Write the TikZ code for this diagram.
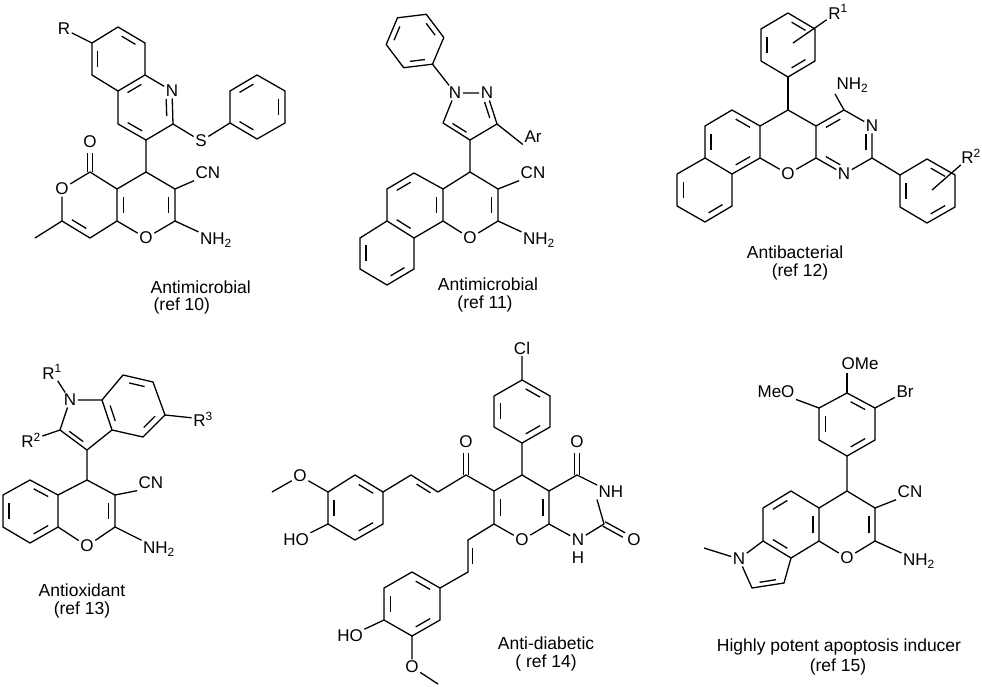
\documentclass[tikz,border=0pt]{standalone}
\usepackage{fontspec}
\setmainfont{Liberation Sans}
\usetikzlibrary{calc}
\newcommand\At[3]{\coordinate (#1) at (#2,#3);}
\newcommand\dbin[3]{\draw ($ ($(#1)!0.17!(#2)$)!0.22!(#3) $) -- ($ ($(#2)!0.17!(#1)$)!0.22!(#3) $);}
\newcommand\dbout[2]{\draw ($(#1)!2.5pt!90:(#2)$) -- ($(#2)!2.5pt!-90:(#1)$); \draw ($(#1)!2.5pt!-90:(#2)$) -- ($(#2)!2.5pt!90:(#1)$);}
\begin{document}
\begin{tikzpicture}[x=1pt,y=-1pt,line width=1.3pt,line join=round,
  atom/.style={font=\fontsize{17}{17}\selectfont,inner sep=1pt},
  capt/.style={font=\fontsize{17.5}{17.5}\selectfont,inner sep=0pt}]
\path[use as bounding box,fill=white] (0,0) rectangle (982,687);
% ===== Structure 1 =====
\At{a1}{92}{43}\At{a2}{118}{27}\At{a3}{145}{43}\At{a4}{145}{75}\At{a5}{118}{91}\At{a6}{92}{75}
\At{ac}{118}{59}
\node[atom] (R) at (64,29) {R};
\node[atom] (qN) at (172,91) {N};
\At{q2}{173}{124}\At{q3}{146}{140}\At{q4}{118}{124}\At{qc}{145}{108}
\node[atom] (S) at (201,141) {S};
\At{p1}{230}{123}\At{p2}{230}{91}\At{p3}{257}{75}\At{p4}{285}{91}\At{p5}{285}{123}\At{p6}{257}{139}\At{pc}{257}{107}
\At{y4}{146}{172}\At{y3}{175}{189}\At{y2}{175}{221}\At{y8}{117}{221}\At{y4a}{117}{189}\At{yc}{146}{205}
\node[atom] (O1) at (146,238) {O};
\node[atom] (CN1) at (208,173) {CN};
\node[atom] (NH1) at (216,240) {NH\textsubscript{2}};
\At{c5}{90}{172}\node[atom] (Oc1) at (90,142) {O};\At{oe1}{90}{153}
\node[atom] (Or1) at (62,189) {O};
\At{c7}{62}{221}\At{c8}{90}{238}\At{me1}{35}{238}\At{pc2}{90}{205}
\draw (R)--(a1)--(a2)--(a3)--(a4)--(a5)--(a6)--(a1);
\dbin{a2}{a3}{ac}\dbin{a6}{a1}{ac}\dbin{a4}{a5}{qc}
\draw (a4)--(qN)--(q2)--(q3)--(q4)--(a5);
\dbin{qN}{q2}{qc}\dbin{q3}{q4}{qc}
\draw (q2)--(S)--(p1)--(p2)--(p3)--(p4)--(p5)--(p6)--(p1);
\dbin{p2}{p3}{pc}\dbin{p4}{p5}{pc}\dbin{p6}{p1}{pc}
\draw (q3)--(y4)--(y3)--(y2)--(O1)--(y8)--(y4a)--(y4);
\dbin{y3}{y2}{yc}\dbin{y8}{y4a}{yc}
\draw (y3)--(CN1.south west); \draw (y2)--(NH1);
\draw (y4a)--(c5)--(Or1)--(c7)--(c8)--(y8); \draw (c7)--(me1);
\dbin{c7}{c8}{pc2}\dbout{c5}{oe1}
\node[capt,anchor=west] (t1a) at (150,287) {Antimicrobial};
\node[capt,anchor=west] (t1b) at (153,306) {(ref 10)};
% ===== Structure 2 =====
\At{b1}{443.8}{37.5}\At{b2}{426.3}{14.3}\At{b3}{397.5}{17.8}\At{b4}{386.2}{44.5}\At{b5}{403.7}{67.7}\At{b6}{432.5}{64.2}\At{bc}{415}{41}
\node[atom] (zN1) at (455,93) {N};
\node[atom] (zN2) at (487,93) {N};
\At{z3}{497}{124}\At{z4}{470}{140}\At{z5}{443}{123}\At{zc}{470}{115}
\node[atom] (Ar) at (533,137) {Ar};
\At{x4}{470}{172}\At{x3}{498}{189}\At{x2}{498}{221}\At{xb}{443}{221}\At{xa}{443}{189}\At{xc}{470}{205}
\node[atom] (O2) at (470,238) {O};
\node[atom] (CN2) at (533,173) {CN};
\node[atom] (NH2b) at (539,240) {NH\textsubscript{2}};
\At{n5}{414}{173}\At{n6}{387}{189}\At{n6a}{387}{221}\At{n10a}{414}{238}\At{nAc}{415}{205}
\At{n7}{360}{238}\At{n8}{360}{269}\At{n9}{387}{285}\At{n10}{414}{269}\At{nBc}{387}{253}
\draw (b1)--(b2)--(b3)--(b4)--(b5)--(b6)--(b1);
\dbin{b1}{b2}{bc}\dbin{b3}{b4}{bc}\dbin{b5}{b6}{bc}
\draw (b6)--(zN1)--(zN2)--(z3)--(z4)--(z5)--(zN1);
\dbin{zN2}{z3}{zc}\dbin{z4}{z5}{zc}
\draw (z3)--(Ar.south west);
\draw (z4)--(x4)--(x3)--(x2)--(O2)--(xb)--(xa)--(x4);
\dbin{x3}{x2}{xc}\dbin{xa}{xb}{nAc}
\draw (x3)--(CN2.south west); \draw (x2)--(NH2b);
\draw (xa)--(n5)--(n6)--(n6a)--(n10a)--(xb);
\draw (n6a)--(n7)--(n8)--(n9)--(n10)--(n10a);
\dbin{n5}{n6}{nAc}\dbin{n6a}{n10a}{nAc}\dbin{n7}{n8}{nBc}\dbin{n9}{n10}{nBc}
\node[capt] (t2a) at (488,284) {Antimicrobial};
\node[capt] (t2b) at (485,304) {(ref 11)};
% ===== Structure 3 =====
\At{u1}{788}{13}\At{u2}{815}{29}\At{u3}{815}{61}\At{u4}{788}{77}\At{u5}{761}{61}\At{u6}{761}{29}\At{uc}{788}{45}
\node[atom] (R1a) at (838,12) {R\textsuperscript{1}};
\At{ui}{793}{43}
\At{m}{788}{110}\At{k1}{816}{126}\At{k2}{816}{158}\At{k4}{760}{158}\At{k5}{760}{126}\At{kc}{788}{142}
\node[atom] (O3) at (788,174) {O};
\At{t4}{844}{110}\At{t2}{872}{158}\At{tc}{844}{142}
\node[atom] (N3c) at (872,126) {N};
\node[atom] (N1c) at (844,174) {N};
\node[atom,anchor=south west] (NH3) at (835,94) {NH\textsubscript{2}};
\At{r1}{900}{175}\At{r2}{927}{159}\At{r3}{955}{175}\At{r4}{955}{207}\At{r5}{927}{223}\At{r6}{900}{207}\At{rc}{927}{191}
\node[atom] (R2a) at (971,156) {R\textsuperscript{2}};
\At{ri}{932}{190}
\At{g1}{732}{110}\At{g2}{705}{126}\At{g3}{705}{158}\At{g4}{732}{174}\At{gc}{732}{142}
\At{h1}{677}{174}\At{h2}{677}{206}\At{h3}{705}{222}\At{h4}{732}{206}\At{hc}{705}{190}
\draw (u1)--(u2)--(u3)--(u4)--(u5)--(u6)--(u1);
\dbin{u6}{u5}{uc}\dbin{u1}{u2}{uc}\dbin{u3}{u4}{uc}
\draw (R1a)--(ui); \draw (u4)--(m);
\draw (m)--(k1)--(k2)--(O3)--(k4)--(k5)--(m);
\draw (k1)--(t4)--(N3c)--(t2)--(N1c)--(k2);
\draw (t4)--(NH3.south west);
\dbin{k1}{t4}{tc}\dbin{N3c}{t2}{tc}\dbin{k2}{N1c}{tc}
\draw (t2)--(r1)--(r2)--(r3)--(r4)--(r5)--(r6)--(r1);
\dbin{r1}{r6}{rc}\dbin{r2}{r3}{rc}\dbin{r4}{r5}{rc}
\draw (R2a)--(ri);
\draw (k5)--(g1)--(g2)--(g3)--(g4)--(k4);
\draw (g3)--(h1)--(h2)--(h3)--(h4)--(g4);
\dbin{k5}{g1}{gc}\dbin{g2}{g3}{gc}\dbin{g4}{k4}{gc}\dbin{h1}{h2}{hc}\dbin{h3}{h4}{hc}
\node[capt] (t3a) at (795,252) {Antibacterial};
\node[capt] (t3b) at (800,272) {(ref 12)};
% ===== Structure 4 =====
\node[atom] (iN) at (70,400) {N};
\node[atom] (iR1) at (52,372) {R\textsuperscript{1}};
\At{i7a}{102}{400}\At{i7}{123}{375}\At{i6}{153}{382}\At{i5}{165}{415}\At{i4}{143}{437}\At{i3a}{112}{430}\At{ic}{133}{407}
\node[atom] (iR3) at (203,419) {R\textsuperscript{3}};
\At{i2}{60}{430}\At{i3}{87}{450}\At{pyc}{86}{424}
\node[atom] (iR2) at (31,440) {R\textsuperscript{2}};
\At{w4}{87}{480}\At{w3}{115}{495}\At{w2}{115}{527}\At{w8a}{58}{527}\At{w4a}{58}{495}\At{wc}{87}{511}
\node[atom] (O4) at (87,546) {O};
\node[atom] (CN4) at (151,483) {CN};
\node[atom] (NH4) at (159,549) {NH\textsubscript{2}};
\At{v5}{30}{480}\At{v6}{3}{495}\At{v7}{3}{527}\At{v8}{30}{543}\At{vc}{30}{511}
\draw (iR1)--(iN); \draw (iN)--(i7a)--(i7)--(i6)--(i5)--(i4)--(i3a)--(i7a);
\dbin{i7}{i6}{ic}\dbin{i5}{i4}{ic}\dbin{i7a}{i3a}{ic}
\draw (i5)--(iR3);
\draw (iN)--(i2)--(i3)--(i3a); \dbin{i2}{i3}{pyc}
\draw (i2)--(iR2);
\draw (i3)--(w4)--(w3)--(w2)--(O4)--(w8a)--(w4a)--(w4);
\dbin{w3}{w2}{wc}
\draw (w3)--(CN4.south west); \draw (w2)--(NH4);
\draw (w4a)--(v5)--(v6)--(v7)--(v8)--(w8a);
\dbin{w4a}{v5}{vc}\dbin{v6}{v7}{vc}\dbin{v8}{w8a}{vc}
\node[capt] (t4a) at (82,590) {Antioxidant};
\node[capt] (t4b) at (82,610) {(ref 13)};
% ===== Structure 5 =====
\node[atom] (Cl) at (522,348) {Cl};
\At{cp1}{522}{380}\At{cp2}{550}{396}\At{cp3}{550}{427}\At{cp4}{522}{443}\At{cp5}{494}{427}\At{cp6}{494}{396}\At{cpc}{522}{411}
\At{d5}{522}{475}\At{d4a}{549}{491}\At{d8a}{549}{524}\At{d7}{494}{524}\At{d6}{494}{491}\At{dc}{522}{508}
\node[atom] (O5) at (522,540) {O};
\At{d4}{577}{475}\node[atom] (O5a) at (577,442) {O};\At{oe5}{577}{453}
\node[atom,anchor=west] (NH5) at (597,492) {NH};
\At{d2}{604}{524}\node[atom] (O5b) at (634,540) {O};\At{oe5b}{624}{535}
\node[atom] (N5) at (578,540) {N};
\node[atom] (H5) at (578,558) {H};
\At{kc5}{466}{475}\node[atom] (Ok5) at (466,442) {O};\At{oek}{466}{453}
\At{e1}{438}{492}\At{e2}{411}{475}\At{ec}{420}{506}
\At{ar1}{383}{492}\At{ar2}{355}{475}\At{ar3}{328}{492}\At{ar4}{328}{524}\At{ar5}{355}{540}\At{ar6}{383}{524}\At{arc}{355}{508}
\node[atom] (Om5) at (300,476) {O};\At{me5}{272}{492}
\node[atom] (HO5) at (296,540) {HO};
\At{w1}{468}{540}\At{w2b}{468}{572}\At{wwc}{488}{556}
\At{s1}{440}{588}\At{s2}{440}{620}\At{s3}{412}{636}\At{s4}{384}{620}\At{s5}{384}{588}\At{s6}{412}{572}\At{sc}{412}{604}
\node[atom] (HO5b) at (350,636) {HO};
\node[atom] (Om5b) at (412,667) {O};\At{me5b}{438}{684}
\draw (Cl)--(cp1)--(cp2)--(cp3)--(cp4)--(cp5)--(cp6)--(cp1);
\dbin{cp1}{cp2}{cpc}\dbin{cp3}{cp4}{cpc}\dbin{cp5}{cp6}{cpc}
\draw (cp4)--(d5)--(d4a)--(d8a)--(O5)--(d7)--(d6)--(d5);
\dbin{d4a}{d8a}{dc}\dbin{d7}{d6}{dc}
\draw (d4a)--(d4)--(NH5); \dbout{d4}{oe5}
\draw (NH5.south west)--(d2)--(N5)--(d8a); \dbout{d2}{oe5b}
\draw (d6)--(kc5)--(e1); \dbout{kc5}{oek}
\draw (e1)--(e2)--(ar1); \dbin{e1}{e2}{ec}
\draw (ar1)--(ar2)--(ar3)--(ar4)--(ar5)--(ar6)--(ar1);
\dbin{ar1}{ar2}{arc}\dbin{ar3}{ar4}{arc}\dbin{ar5}{ar6}{arc}
\draw (me5)--(Om5)--(ar3); \draw (ar4)--(HO5);
\draw (d7)--(w1)--(w2b)--(s1); \dbin{w1}{w2b}{wwc}
\draw (s1)--(s2)--(s3)--(s4)--(s5)--(s6)--(s1);
\dbin{s6}{s1}{sc}\dbin{s4}{s5}{sc}\dbin{s2}{s3}{sc}
\draw (s4)--(HO5b); \draw (s3)--(Om5b)--(me5b);
\node[capt] (t5a) at (546,643) {Anti-diabetic};
\node[capt] (t5b) at (546,663) {( ref 14)};
% ===== Structure 6 =====
\At{f1}{847}{393}\At{f2}{875}{408}\At{f3}{875}{440}\At{f4}{847}{456}\At{f5}{819}{440}\At{f6}{819}{408}\At{fc}{847}{424}
\node[atom,anchor=south west] (OMe) at (840,371) {OMe};
\node[atom] (MeO) at (776,392) {MeO};
\node[atom] (Br) at (905,392) {Br};
\At{j4}{847}{491}\At{j3}{875}{508}\At{j2}{875}{541}\At{j8a}{819}{541}\At{j4a}{819}{508}\At{jc}{847}{524}
\node[atom] (O6) at (847,558) {O};
\node[atom] (CN6) at (910,492) {CN};
\node[atom] (NH6) at (919,561) {NH\textsubscript{2}};
\At{l5}{791}{491}\At{l6}{763}{508}\At{l6a}{763}{541}\At{l9b}{791}{558}\At{lc}{791}{524}
\node[atom] (N6) at (739,559) {N};
\At{q1}{752}{588}\At{qq2}{784}{583}\At{qpc}{767}{565}\At{me6}{704}{548}
\draw (f1)--(f2)--(f3)--(f4)--(f5)--(f6)--(f1);
\dbin{f5}{f6}{fc}\dbin{f1}{f2}{fc}\dbin{f3}{f4}{fc}
\draw (f1)--(847,373); \draw (f6)--(MeO); \draw (f2)--(Br);
\draw (f4)--(j4)--(j3)--(j2)--(O6)--(j8a)--(j4a)--(j4);
\dbin{j3}{j2}{jc}
\draw (j3)--(CN6.south west); \draw (j2)--(NH6);
\draw (j4a)--(l5)--(l6)--(l6a)--(l9b)--(j8a);
\dbin{j4a}{j8a}{lc}\dbin{l5}{l6}{lc}\dbin{l6a}{l9b}{lc}
\draw (l6a)--(N6)--(q1)--(qq2)--(l9b); \dbin{q1}{qq2}{qpc}
\draw (N6)--(me6);
\node[capt] (t6a) at (839,647) {Highly potent apoptosis inducer};
\node[capt] (t6b) at (838,667) {(ref 15)};
\end{tikzpicture}
\end{document}
